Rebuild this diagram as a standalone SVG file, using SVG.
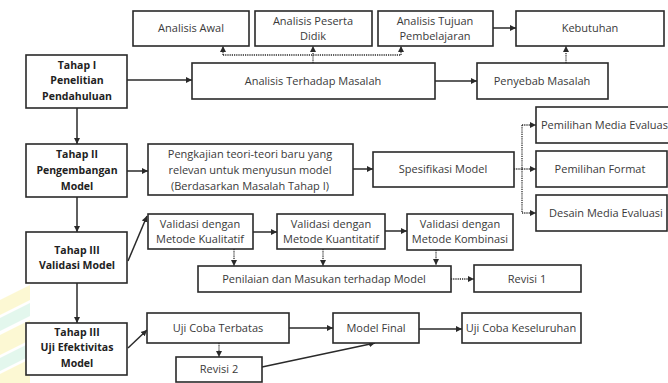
<svg xmlns="http://www.w3.org/2000/svg" width="668" height="383" viewBox="0 0 668 383">
<style>
.box{fill:#fff;stroke:#2a2a2a;stroke-width:1.6}
.t{font-family:"Open Sans","Noto Sans",sans-serif;font-size:11px;fill:#3a3a3a;text-anchor:middle}
.b{font-weight:bold;fill:#222;font-size:10.5px}
.c{fill:none;stroke:#2a2a2a;stroke-width:1.5}
.d{fill:none;stroke:#2a2a2a;stroke-width:1.3;stroke-dasharray:1.2 1}
</style>
<defs>
<marker id="ah" markerUnits="userSpaceOnUse" markerWidth="7" markerHeight="7" refX="6" refY="3.5" orient="auto">
<path d="M0,0.5 L6,3.5 L0,6.5 Z" fill="#2a2a2a"/>
</marker>
</defs>
<rect width="668" height="383" fill="#fff"/>
<g id="watermark" opacity="0.5">
<polygon points="0,300 30,285 30,300 0,315" fill="#fbf3a8"/>
<polygon points="0,318 30,303 30,316 0,331" fill="#c9f0dc"/>
<polygon points="0,335 30,320 30,340 0,355" fill="#fbf3a8"/>
<polygon points="0,358 30,343 30,356 0,371" fill="#c9f0dc"/>
<polygon points="0,374 30,359 30,383 0,383" fill="#fbf3a8"/>
</g>
<g id="connectors">
<line class="c" x1="127" y1="80" x2="192" y2="80" marker-end="url(#ah)"/>
<line class="c" x1="435" y1="81" x2="477" y2="81" marker-end="url(#ah)"/>
<line class="c" x1="493" y1="28" x2="516" y2="28" marker-end="url(#ah)"/>
<line class="d" x1="566" y1="63" x2="566" y2="46" marker-end="url(#ah)"/>
<line class="d" x1="313" y1="63" x2="313" y2="46" marker-end="url(#ah)"/>
<line class="d" x1="223" y1="55" x2="401" y2="55"/>
<line class="d" x1="223" y1="55" x2="223" y2="46" marker-end="url(#ah)"/>
<line class="d" x1="401" y1="55" x2="401" y2="46" marker-end="url(#ah)"/>
<line class="c" x1="77" y1="108" x2="77" y2="144" marker-end="url(#ah)"/>
<line class="c" x1="77" y1="197" x2="77" y2="232" marker-end="url(#ah)"/>
<line class="c" x1="77" y1="283" x2="77" y2="323" marker-end="url(#ah)"/>
<line class="c" x1="127" y1="171" x2="148" y2="171" marker-end="url(#ah)"/>
<line class="c" x1="353" y1="169" x2="373" y2="169" marker-end="url(#ah)"/>
<line class="d" x1="514" y1="169" x2="522" y2="169"/>
<line class="d" x1="522" y1="125" x2="522" y2="213"/>
<line class="d" x1="522" y1="125" x2="536" y2="125" marker-end="url(#ah)"/>
<line class="d" x1="522" y1="169" x2="536" y2="169" marker-end="url(#ah)"/>
<line class="d" x1="522" y1="213" x2="536" y2="213" marker-end="url(#ah)"/>
<line class="c" x1="128" y1="261" x2="147" y2="216" marker-end="url(#ah)"/>
<line class="c" x1="253" y1="232" x2="277" y2="232" marker-end="url(#ah)"/>
<line class="c" x1="385" y1="231" x2="407" y2="231" marker-end="url(#ah)"/>
<line class="d" x1="234" y1="249" x2="234" y2="266" marker-end="url(#ah)"/>
<line class="d" x1="323" y1="249" x2="323" y2="266" marker-end="url(#ah)"/>
<line class="d" x1="436" y1="250" x2="436" y2="265" marker-end="url(#ah)"/>
<line class="d" x1="451" y1="279" x2="474" y2="279" marker-end="url(#ah)"/>
<line class="c" x1="128" y1="348" x2="147" y2="330" marker-end="url(#ah)"/>
<line class="c" x1="289" y1="328" x2="333" y2="328" marker-end="url(#ah)"/>
<line class="c" x1="419" y1="329" x2="462" y2="329" marker-end="url(#ah)"/>
<line class="d" x1="219" y1="343" x2="219" y2="357" marker-end="url(#ah)"/>
<line class="c" x1="262" y1="367" x2="375" y2="343" marker-end="url(#ah)"/>
</g>
<g id="tahap1"><rect class="box" x="26" y="55" width="101" height="53"/><text class="t b" x="77" y="69">Tahap I</text><text class="t b" x="77" y="84">Penelitian</text><text class="t b" x="77" y="100">Pendahuluan</text></g>
<g id="tahap2"><rect class="box" x="26" y="144" width="101" height="53"/><text class="t b" x="77" y="158">Tahap II</text><text class="t b" x="77" y="174">Pengembangan</text><text class="t b" x="77" y="190">Model</text></g>
<g id="tahap3v"><rect class="box" x="26" y="232" width="101" height="51"/><text class="t b" x="77" y="254">Tahap III</text><text class="t b" x="77" y="269">Validasi Model</text></g>
<g id="tahap3u"><rect class="box" x="26" y="323" width="101" height="52"/><text class="t b" x="77" y="336">Tahap III</text><text class="t b" x="77" y="351">Uji Efektivitas</text><text class="t b" x="77" y="367">Model</text></g>
<g id="awal"><rect class="box" x="133" y="11" width="116" height="35"/><text class="t" x="191" y="32">Analisis Awal</text></g>
<g id="peserta"><rect class="box" x="255" y="11" width="117" height="35"/><text class="t" x="313" y="25">Analisis Peserta</text><text class="t" x="313" y="40">Didik</text></g>
<g id="tujuan"><rect class="box" x="378" y="11" width="115" height="35"/><text class="t" x="435" y="25">Analisis Tujuan</text><text class="t" x="435" y="40">Pembelajaran</text></g>
<g id="kebutuhan"><rect class="box" x="516" y="11" width="148" height="35"/><text class="t" x="590" y="32">Kebutuhan</text></g>
<g id="terhadap"><rect class="box" x="192" y="63" width="243" height="36"/><text class="t" x="313" y="85">Analisis Terhadap Masalah</text></g>
<g id="penyebab"><rect class="box" x="477" y="63" width="131" height="36"/><text class="t" x="542" y="85">Penyebab Masalah</text></g>
<g id="pengkajian"><rect class="box" x="148" y="144" width="205" height="51"/><text class="t" x="250" y="158">Pengkajian teori-teori baru yang</text><text class="t" x="250" y="174">relevan untuk menyusun model</text><text class="t" x="250" y="190">(Berdasarkan Masalah Tahap I)</text></g>
<g id="spesifikasi"><rect class="box" x="373" y="152" width="141" height="35"/><text class="t" x="443" y="173">Spesifikasi Model</text></g>
<g id="pmedia"><rect class="box" x="536" y="107" width="140" height="36"/><text class="t" x="541" y="129" style="text-anchor:start">Pemilihan Media Evaluasi</text></g>
<g id="pformat"><rect class="box" x="536" y="151" width="131" height="36"/><text class="t" x="600" y="173">Pemilihan Format</text></g>
<g id="desain"><rect class="box" x="536" y="195" width="131" height="36"/><text class="t" x="606" y="217">Desain Media Evaluasi</text></g>
<g id="kualitatif"><rect class="box" x="148" y="214" width="105" height="35"/><text class="t" x="200" y="228">Validasi dengan</text><text class="t" x="200" y="243">Metode Kualitatif</text></g>
<g id="kuantitatif"><rect class="box" x="277" y="214" width="108" height="35"/><text class="t" x="331" y="228">Validasi dengan</text><text class="t" x="331" y="243">Metode Kuantitatif</text></g>
<g id="kombinasi"><rect class="box" x="407" y="214" width="106" height="36"/><text class="t" x="460" y="228">Validasi dengan</text><text class="t" x="460" y="243">Metode Kombinasi</text></g>
<g id="penilaian"><rect class="box" x="198" y="266" width="253" height="26"/><text class="t" x="324" y="283">Penilaian dan Masukan terhadap Model</text></g>
<g id="revisi1"><rect class="box" x="474" y="265" width="107" height="27"/><text class="t" x="527" y="283">Revisi 1</text></g>
<g id="ujiterbatas"><rect class="box" x="147" y="313" width="142" height="30"/><text class="t" x="218" y="332">Uji Coba Terbatas</text></g>
<g id="modelfinal"><rect class="box" x="333" y="313" width="86" height="30"/><text class="t" x="376" y="332">Model Final</text></g>
<g id="keseluruhan"><rect class="box" x="462" y="313" width="119" height="30"/><text class="t" x="521" y="332">Uji Coba Keseluruhan</text></g>
<g id="revisi2"><rect class="box" x="176" y="357" width="86" height="25"/><text class="t" x="219" y="373">Revisi 2</text></g>
</svg>
